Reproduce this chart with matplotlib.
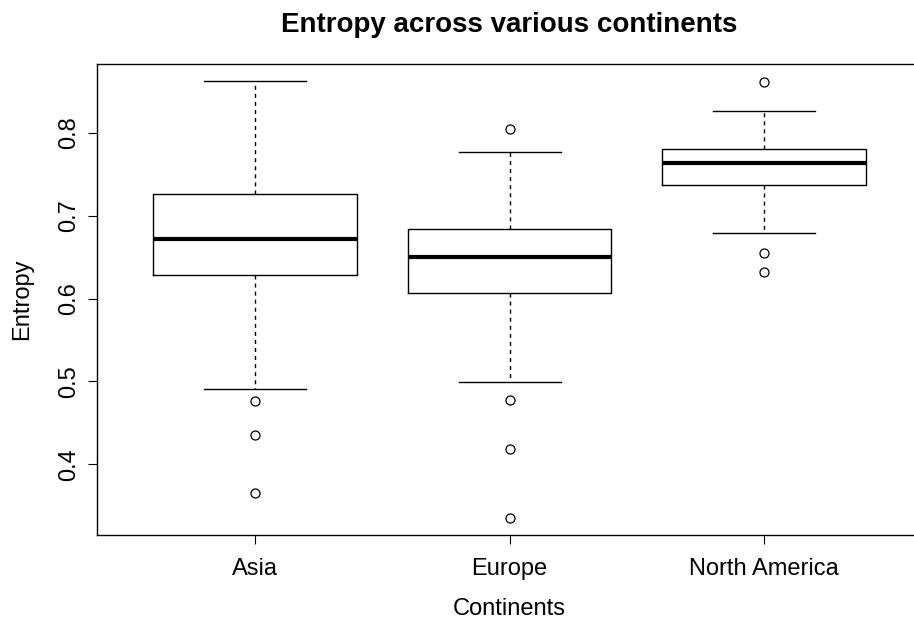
import matplotlib
matplotlib.use('Agg')
import matplotlib.pyplot as plt

plt.rcParams['font.family'] = ['Liberation Sans', 'DejaVu Sans']

continents = ['Asia', 'Europe', 'North America']
# five-number summaries per continent
q1 = [0.628, 0.6066, 0.7365]
medians = [0.6718, 0.6497, 0.7631]
q3 = [0.7264, 0.6835, 0.7807]
whislo = [0.4912, 0.4989, 0.6794]
whishi = [0.8624, 0.7771, 0.8262]
fliers = [[0.4767, 0.4350, 0.3650],
          [0.8045, 0.4779, 0.4181, 0.3356],
          [0.8608, 0.6553, 0.6323]]

stats = []
for i in range(len(continents)):
    stats.append({'label': continents[i], 'q1': q1[i], 'med': medians[i], 'q3': q3[i],
                  'whislo': whislo[i], 'whishi': whishi[i], 'fliers': fliers[i]})

fig = plt.figure(figsize=(9.14, 6.22), dpi=100)
ax = fig.add_axes([97.3 / 914, 1 - 535 / 622, 824.6 / 914, 471 / 622])

ax.bxp(stats, positions=[1, 2, 3], widths=0.8, capwidths=0.4,
       boxprops=dict(color='black', linewidth=1.0),
       medianprops=dict(color='black', linewidth=3.0, solid_capstyle='butt'),
       whiskerprops=dict(color='black', linewidth=1.0, linestyle=(0, (2.9, 2.9))),
       capprops=dict(color='black', linewidth=1.0),
       flierprops=dict(marker='o', markerfacecolor='none', markeredgecolor='black',
                       markersize=6.5, markeredgewidth=0.9))

ax.set_xlim(0.38, 3.62)
ax.set_ylim(0.3147, 0.8829)
ax.set_yticks([0.4, 0.5, 0.6, 0.7, 0.8])
ax.set_yticklabels(['0.4', '0.5', '0.6', '0.7', '0.8'], rotation=90, va='center')
ax.set_xticks([1, 2, 3])
ax.set_xticklabels(continents)
ax.tick_params(axis='both', length=6.5, width=0.8, labelsize=17, direction='out')
ax.tick_params(axis='y', pad=6)
ax.tick_params(axis='x', pad=10)
for s in ax.spines.values():
    s.set_linewidth(1.0)
    s.set_color('black')

ax.set_xlabel('Continents', fontsize=17, labelpad=13)
ax.set_ylabel('Entropy', fontsize=17, labelpad=18)
fig.text(509 / 914, 1 - 25 / 622, 'Entropy across various continents',
         ha='center', va='center', fontsize=20, fontweight='bold')

fig.savefig('out.png', dpi=100)
